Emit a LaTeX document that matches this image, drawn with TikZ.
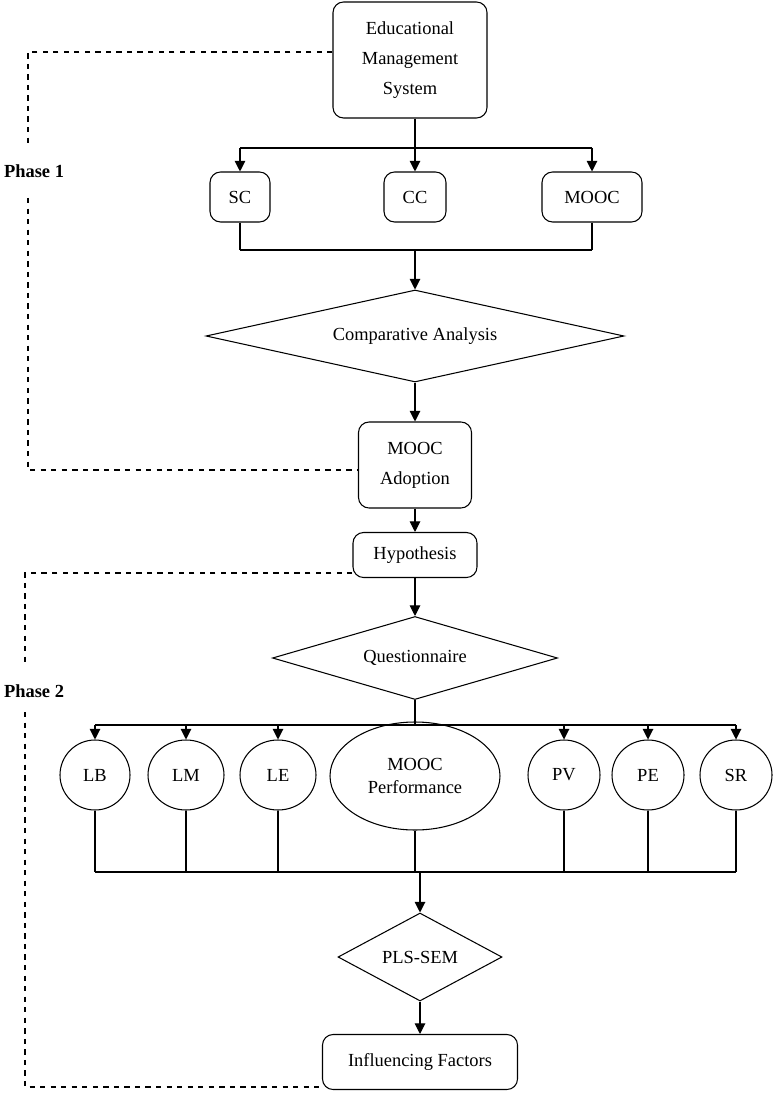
\documentclass[tikz,border=0pt]{standalone}
\usepackage{fontspec}
\setmainfont{Liberation Serif}
\usetikzlibrary{shapes.geometric,arrows.meta}

\tikzset{
  box/.style={draw, rounded corners=6pt, align=center, font=\fontsize{10.5}{17}\selectfont, inner sep=0pt},
  dia/.style={draw, diamond, aspect=4.5, inner sep=0pt, font=\fontsize{10.5}{13}\selectfont},
  circ/.style={draw, ellipse, inner sep=0pt, font=\fontsize{10.5}{13}\selectfont},
  arr/.style={-{Triangle[length=6pt,width=6pt]}},
  phase/.style={dashed},
}

\begin{document}
\begin{tikzpicture}[x=0.02cm, y=-0.02cm, line width=0.6pt]
  \useasboundingbox (0,0) rectangle (774,1118);

  % phase 1
  \node[box, minimum width=154*0.02cm, minimum height=116*0.02cm] (EMS) at (410,60) {Educational\\Management\\System};
  \node[box, minimum width=60*0.02cm, minimum height=50*0.02cm] (SC) at (240,197) {SC};
  \node[box, minimum width=62*0.02cm, minimum height=50*0.02cm] (CC) at (415,197) {CC};
  \node[box, minimum width=100*0.02cm, minimum height=50*0.02cm] (MC) at (592,197) {MOOC};
  \node[dia, minimum width=418*0.02cm, minimum height=92*0.02cm] (CA) at (415,336) {Comparative Analysis};
  \node[box, minimum width=113*0.02cm, minimum height=86*0.02cm] (MA) at (415,465) {MOOC\\Adoption};

  \coordinate (t1) at (415,148);
  \coordinate (b1) at (415,250);
  \draw (EMS.south -| t1) -- (t1);
  \draw (SC.north |- t1) -- (MC.north |- t1);
  \foreach \n in {SC,CC,MC} \draw[arr] (\n.north |- t1) -- (\n.north);
  \foreach \n in {SC,MC} \draw (\n.south) -- (\n.south |- b1);
  \draw (SC.south |- b1) -- (MC.south |- b1);
  \draw[arr] (b1) -- (CA.north);
  \draw[arr] (CA.south) -- (MA.north);

  % phase 2
  \node[box, minimum width=124*0.02cm, minimum height=45*0.02cm] (HY) at (415,555) {Hypothesis};
  \node[dia, minimum width=285*0.02cm, minimum height=83*0.02cm] (QU) at (415,658) {Questionnaire};
  \foreach \n/\x/\w in {LB/95/70, LM/186/76, LE/278/76, PV/564/72, PE/648/72, SR/736/72}
    \node[circ, minimum width=\w*0.02cm, minimum height=70*0.02cm] (\n) at (\x,775) {\n};
  \node[circ, minimum width=170*0.02cm, minimum height=108*0.02cm, align=center] (MP) at (415,776) {MOOC\\Performance};
  \node[dia, minimum width=164*0.02cm, minimum height=88*0.02cm] (PS) at (420,957) {PLS-SEM};
  \node[box, minimum width=195*0.02cm, minimum height=55*0.02cm] (IF) at (420,1062) {Influencing Factors};

  \draw[arr] (MA.south) -- (HY.north);
  \draw[arr] (HY.south) -- (QU.north);
  \coordinate (t2) at (415,725);
  \coordinate (b2) at (420,872);
  \draw (QU.south) -- (t2);
  \draw (LB.north |- t2) -- (SR.north |- t2);
  \foreach \n in {LB,LM,LE,PV,PE,SR} \draw[arr] (\n.north |- t2) -- (\n.north);
  \foreach \n in {LB,LM,LE,PV,PE,SR} \draw (\n.south) -- (\n.south |- b2);
  \draw (MP.south) -- (MP.south |- b2);
  \draw (LB.south |- b2) -- (SR.south |- b2);
  \draw[arr] (b2) -- (PS.north);
  \draw[arr] (PS.south) -- (IF.north);

  % phase labels
  \node[font=\bfseries\fontsize{10.5}{13}\selectfont] (P1) at (34,171) {Phase 1};
  \node[font=\bfseries\fontsize{10.5}{13}\selectfont] (P2) at (34,691) {Phase 2};
  \draw[phase] (EMS.west |- 0,52) -- (28,52) -- (28,145);
  \draw[phase] (28,198) -- (28,470) -- (MA.west |- 0,470);
  \draw[phase] (HY.west |- 0,573) -- (25,573) -- (25,665);
  \draw[phase] (25,712) -- (25,1087) -- (IF.west |- 0,1087);
\end{tikzpicture}
\end{document}
